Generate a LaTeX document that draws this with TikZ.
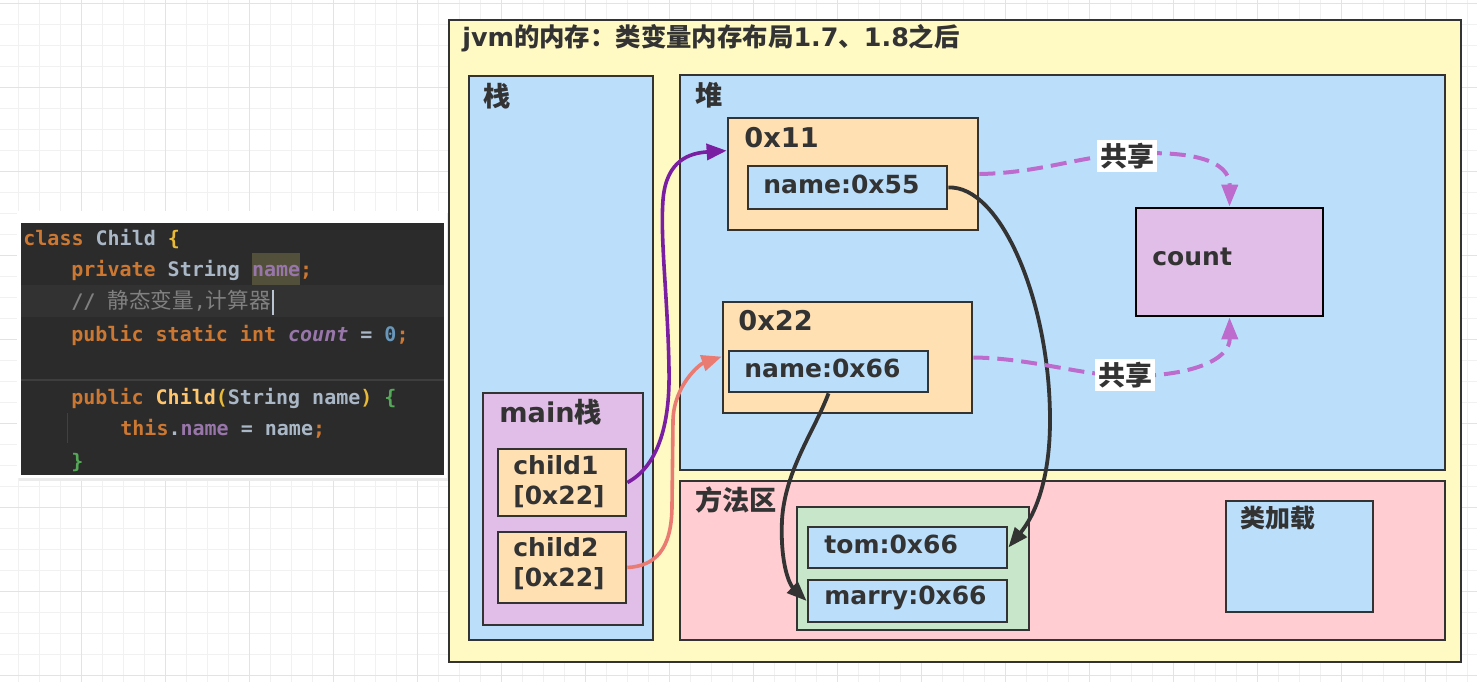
\documentclass[tikz,border=0pt]{standalone}
\usepackage{fontspec}
\setmainfont{DejaVu Sans}
\newfontfamily\cjk{Noto Sans CJK SC}
\newfontfamily\code{DejaVu Sans Mono}
\usetikzlibrary{arrows.meta,fit,calc}
\definecolor{gridminor}{HTML}{F1F1F1}
\definecolor{gridmajor}{HTML}{E3E3E3}
\definecolor{bd}{HTML}{333333}
\definecolor{yel}{HTML}{FFF9C4}
\definecolor{blu}{HTML}{BBDEFB}
\definecolor{pnk}{HTML}{FFCDD2}
\definecolor{lil}{HTML}{E1BEE7}
\definecolor{org}{HTML}{FFE0B2}
\definecolor{grn}{HTML}{C8E6C9}
\definecolor{txt}{HTML}{333333}
\definecolor{purp}{HTML}{7B1FA2}
\definecolor{salm}{HTML}{EA7B72}
\definecolor{shareC}{HTML}{BD6BCC}
\definecolor{codebg}{HTML}{2B2B2B}
\definecolor{curline}{HTML}{323232}
\definecolor{sepline}{HTML}{3E3E3E}
\definecolor{kw}{HTML}{CC7832}
\definecolor{fg}{HTML}{A9B7C6}
\definecolor{fld}{HTML}{9876AA}
\definecolor{num}{HTML}{6897BB}
\definecolor{cls}{HTML}{FFC66D}
\definecolor{cmt}{HTML}{808080}
\definecolor{gold}{HTML}{E8BA36}
\definecolor{grnb}{HTML}{54A857}
\definecolor{hl}{HTML}{52503A}
\tikzset{
  box/.style={draw=bd, line width=1.35pt, inner sep=0pt},
  lbl/.style={anchor=west, inner sep=0pt, text=txt, font=\bfseries\fontsize{12.5pt}{15pt}\selectfont},
  big/.style={lbl, font=\bfseries\fontsize{13.6pt}{15pt}\selectfont},
  codeline/.style={anchor=base west, inner sep=0pt, font=\code\bfseries\fontsize{10pt}{12pt}\selectfont},
  parrow/.style={draw=purp, line width=1.8pt, -{Triangle[length=10pt,width=8pt]}},
  sarrow/.style={draw=salm, line width=1.8pt, -{Triangle[length=10pt,width=8pt]}},
  barrow/.style={draw=bd, line width=1.9pt, -{Triangle[length=10pt,width=7.5pt]}},
  sharr/.style={draw=shareC, line width=2pt, dash pattern=on 8pt off 4pt, -{Triangle[length=11pt,width=8pt]}},
  share/.style={fill=white, inner sep=1.5pt, text=txt, font=\cjk\bfseries\fontsize{13.5pt}{15pt}\selectfont}
}
\begin{document}
\begin{tikzpicture}[x=0.5pt,y=-0.5pt]
\useasboundingbox (0,0) rectangle (1477,682);
\fill[white] (0,0) rectangle (1477,682);
% background grid
\begin{scope}
\clip (0,0) rectangle (1477,682);
\foreach \i in {0,...,70} \draw[gridminor, line width=0.6pt] ({18.3+21*\i},0) -- ({18.3+21*\i},682);
\foreach \j in {0,...,32} \draw[gridminor, line width=0.6pt] (0,{3.3+21*\j}) -- (1477,{3.3+21*\j});
\foreach \i in {0,...,18} \draw[gridmajor, line width=0.6pt] ({-2.7+84*\i},0) -- ({-2.7+84*\i},682);
\foreach \j in {0,...,8} \draw[gridmajor, line width=0.6pt] (0,{3.3+84*\j}) -- (1477,{3.3+84*\j});
\end{scope}

% code panel
\fill[black!8] (19,213) rectangle (450,481);
\fill[white] (17,211) rectangle (447,478);
\fill[codebg] (21,223) rectangle (444,475);
\fill[curline] (21,285) rectangle (444,317);
\draw[sepline, line width=0.6pt] (21,380) -- (444,380);
\draw[grnb!25!codebg, line width=0.5pt] (67,413) -- (67,443);
\fill[hl] (251.5,253) rectangle (300,285);
\node[codeline] (c1) at (23,245.5) {\textcolor{kw}{class} \textcolor{fg}{Child} \textcolor{gold}{\{}};
\node[codeline] (c2) at (71,276.5) {\textcolor{kw}{private} \textcolor{fg}{String} \textcolor{fld}{name}\textcolor{kw}{;}};
\node[codeline] (c3) at (71,308.5) {\textcolor{cmt}{// {\cjk\mdseries\fontsize{10.8pt}{12pt}\selectfont 静态变量}\mdseries,{\cjk\mdseries\fontsize{10.8pt}{12pt}\selectfont 计算器}}};
\draw[fg!80, line width=1pt] ($(c3.base east)+(2,-19)$) -- ($(c3.base east)+(2,6)$);
\node[codeline] (c4) at (71,341.5) {\textcolor{kw}{public static int} \textcolor{fld}{\itshape count} \textcolor{fg}{=} \textcolor{num}{0}\textcolor{kw}{;}};
\node[codeline] (c6) at (71,404.5) {\textcolor{kw}{public} \textcolor{cls}{Child}\textcolor{gold}{(}\textcolor{fg}{String name}\textcolor{gold}{)} \textcolor{grnb}{\{}};
\node[codeline] (c7) at (120,435.5) {\textcolor{kw}{this}\textcolor{fg}{.}\textcolor{fld}{name} \textcolor{fg}{= name}\textcolor{kw}{;}};
\node[codeline] (c8) at (71,468.5) {\textcolor{grnb}{\}}};

% memory boxes
\node[box, fill=yel, fit={(449,20) (1461,662)}] (jvm) {};
\node[box, fill=blu, fit={(469,76) (653,640)}] (stack) {};
\node[box, fill=blu, fit={(680,75) (1445,470)}] (heap) {};
\node[box, fill=pnk, fit={(680,481) (1445,640)}] (method) {};
\node[box, fill=lil, fit={(483,393) (643,625)}] (mainst) {};
\node[box, fill=org, fit={(498,449) (626,516)}] (child1) {};
\node[box, fill=org, fit={(498,532) (626,603)}] (child2) {};
\node[box, fill=org, fit={(728,118) (978,230)}] (b11) {};
\node[box, fill=blu, fit={(748,166) (947,209)}] (n55) {};
\node[box, fill=org, fit={(723,302) (972,413)}] (b22) {};
\node[box, fill=blu, fit={(729,351) (928,392)}] (n66) {};
\node[box, draw=black, fill=lil, fit={(1136,208) (1323,316)}] (count) {};
\node[box, fill=grn, fit={(797,507) (1029,630)}] (pool) {};
\node[box, fill=blu, fit={(808,527) (1007,568)}] (tom) {};
\node[box, fill=blu, fit={(808,580) (1007,622)}] (marry) {};
\node[box, fill=blu, fit={(1226,501) (1373,612)}] (loader) {};

% labels
\node[lbl, font=\bfseries\fontsize{12.7pt}{15pt}\selectfont] (title) at (462,38) {jvm{\cjk 的内存：类变量内存布局}1.7{\cjk 、}1.8{\cjk 之后}};
\node[big] (stackL) at (483,96) {\cjk 栈};
\node[big] (heapL) at (695,95) {\cjk 堆};
\node[big] (methodL) at (695,500) {\cjk 方法区};
\node[big] (mainL) at (499,412) {main{\cjk 栈}};
\node[lbl, align=left] (child1L) at (513,482) {child1\\{}[0x22]};
\node[lbl, align=left] (child2L) at (513,564) {child2\\{}[0x22]};
\node[big] (b11L) at (744,138) {0x11};
\node[lbl] (n55L) at (763,184) {name:0x55};
\node[big] (b22L) at (738,321) {0x22};
\node[lbl] (n66L) at (744,368) {name:0x66};
\node[lbl] (countL) at (1152,257) {count};
\node[lbl] (tomL) at (824,544) {tom:0x66};
\node[lbl] (marryL) at (824,598) {marry:0x66};
\node[lbl] (loaderL) at (1240,518) {\cjk 类加载};

% connectors
\draw[parrow] (child1.east) .. controls (660,465) and (670,420) .. (669,370)
   .. controls (668,300) and (660,240) .. (663,200)
   .. controls (666,160) and (690,153) .. ($(b11.north west)+(0,34)$);
\draw[sarrow] (child2.east) .. controls (655,566) and (672,550) .. (672,505)
   -- (673,420) .. controls (674,385) and (700,364) .. ($(b22.north west)+(0,56)$);
\draw[barrow] (n55.east) .. controls (1000,185) and (1050,300) .. (1050,420)
   .. controls (1050,480) and (1035,515) .. (tom.east);
\draw[barrow] (n66.south) .. controls (815,430) and (785,470) .. (782,520)
   .. controls (780,565) and (790,585) .. (marry.west);
\draw[sharr] (b11.east) .. controls (1040,173) and (1080,156) .. (1127,154)
   .. controls (1190,150) and (1230,160) .. (count.north);
\draw[sharr] (b22.east) .. controls (1030,358) and (1080,375) .. (1125,376)
   .. controls (1190,377) and (1230,360) .. (count.south);
\node[share] (share1) at (1127,156) {共享};
\node[share] (share2) at (1125,375) {共享};
\end{tikzpicture}
\end{document}
